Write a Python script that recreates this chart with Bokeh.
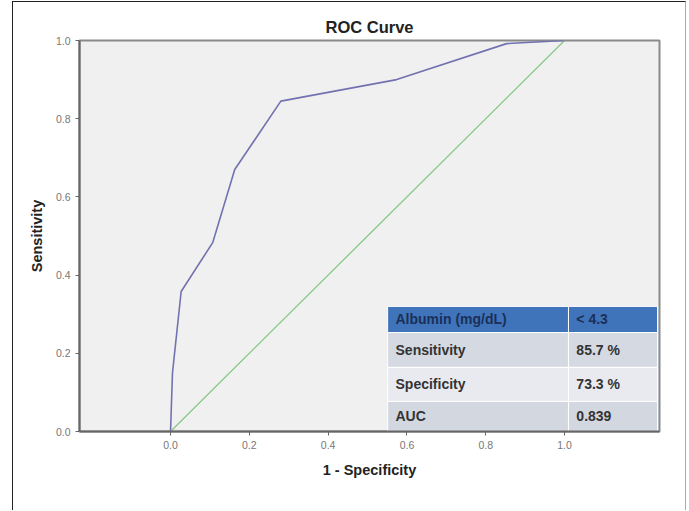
from bokeh.plotting import figure
from bokeh.embed import file_html
from bokeh.resources import INLINE
from bokeh.models import FixedTicker, Range1d, PrintfTickFormatter
from bokeh.core.properties import value

# ROC curve (1 - specificity, sensitivity)
roc_fpr = [0.0, 0.005, 0.027, 0.107, 0.163, 0.28, 0.574, 0.853, 1.0]
roc_tpr = [0.0, 0.15, 0.358, 0.483, 0.67, 0.845, 0.90, 0.992, 1.0]
ref_x = [0.0, 1.0]
ref_y = [0.0, 1.0]
ticks = [0.0, 0.2, 0.4, 0.6, 0.8, 1.0]

table_labels = ["Albumin (mg/dL)", "Sensitivity", "Specificity", "AUC"]
table_values = ["< 4.3", "85.7 %", "73.3 %", "0.839"]

# table layout (data units inside the plot frame)
row_top = [0.32, 0.253, 0.164, 0.077]
row_bot = [0.253, 0.164, 0.077, 0.0]
row_colors = ["#3f74ba", "#d5d9e2", "#e8eaf0", "#d3d7e0"]
col_left = 0.551
col_mid = 1.010
col_right = 1.236

FONT = "Liberation Sans"

p = figure(width=672, height=508, output_backend="svg", toolbar_location=None,
           x_range=Range1d(-0.231, 1.241), y_range=Range1d(0.0, 1.0),
           min_border_left=66, min_border_right=26, min_border_top=38, min_border_bottom=79,
           title="ROC Curve")
p.frame_width = 580
p.frame_height = 391
p.styles = {"margin-left": "12px", "margin-top": "1px",
            "border-left": "1.5px solid #222222", "border-top": "1.5px solid #222222",
            "border-right": "1px solid #aaaaaa", "box-sizing": "content-box"}

p.title.align = "center"
p.title.text_font = FONT
p.title.text_font_size = "16.5px"
p.title.text_font_style = "bold"
p.title.text_color = "#222222"
p.title.standoff = 9

p.background_fill_color = "#f0f0f0"
p.border_fill_color = "white"
p.outline_line_color = "#8a8a8a"
p.outline_line_width = 2
p.grid.visible = False

for ax in (p.xaxis[0], p.yaxis[0]):
    ax.ticker = FixedTicker(ticks=ticks)
    ax.formatter = PrintfTickFormatter(format="%.1f")
    ax.axis_line_color = "#666666"
    ax.axis_line_width = 2
    ax.major_tick_line_color = "#666666"
    ax.major_tick_out = 4
    ax.major_tick_in = 0
    ax.minor_tick_line_color = None
    ax.major_label_text_font = FONT
    ax.major_label_text_font_size = "10.5px"
    ax.major_label_text_color = "#777777"
    ax.axis_label_text_font = FONT
    ax.axis_label_text_font_size = "14.5px"
    ax.axis_label_text_font_style = "bold"
    ax.axis_label_text_color = "#222222"

p.xaxis.axis_label = "1 - Specificity"
p.yaxis.axis_label = "Sensitivity"
p.xaxis.axis_label_standoff = 10
p.yaxis.axis_label_standoff = 8

p.line(ref_x, ref_y, line_color="#86c986", line_width=1.3)
p.line(roc_fpr, roc_tpr, line_color="#7272b0", line_width=1.6)

# inset table
p.quad(left=[col_left + 0.004] * 4, right=[col_right + 0.004] * 4,
       top=[t - 0.006 for t in row_top], bottom=[b - 0.006 for b in row_bot],
       fill_color="#b5b8c0", line_color=None)
p.quad(left=[col_left] * 4, right=[col_mid] * 4, top=row_top, bottom=row_bot,
       fill_color=row_colors, line_color="white", line_width=1)
p.quad(left=[col_mid] * 4, right=[col_right] * 4, top=row_top, bottom=row_bot,
       fill_color=row_colors, line_color="white", line_width=1)

mids = [(t + b) / 2 for t, b in zip(row_top, row_bot)]
txt_colors = ["#1b2f58", "#333333", "#333333", "#333333"]
p.text(x=[col_left + 0.02] * 4, y=mids, text=table_labels, text_font=value(FONT),
       text_font_size="14px", text_font_style="bold", text_color=txt_colors,
       text_baseline="middle", text_align="left")
p.text(x=[col_mid + 0.02] * 4, y=mids, text=table_values, text_font=value(FONT),
       text_font_size="14px", text_font_style="bold", text_color=txt_colors,
       text_baseline="middle", text_align="left")

open("out.html", "w").write(file_html(p, INLINE))
